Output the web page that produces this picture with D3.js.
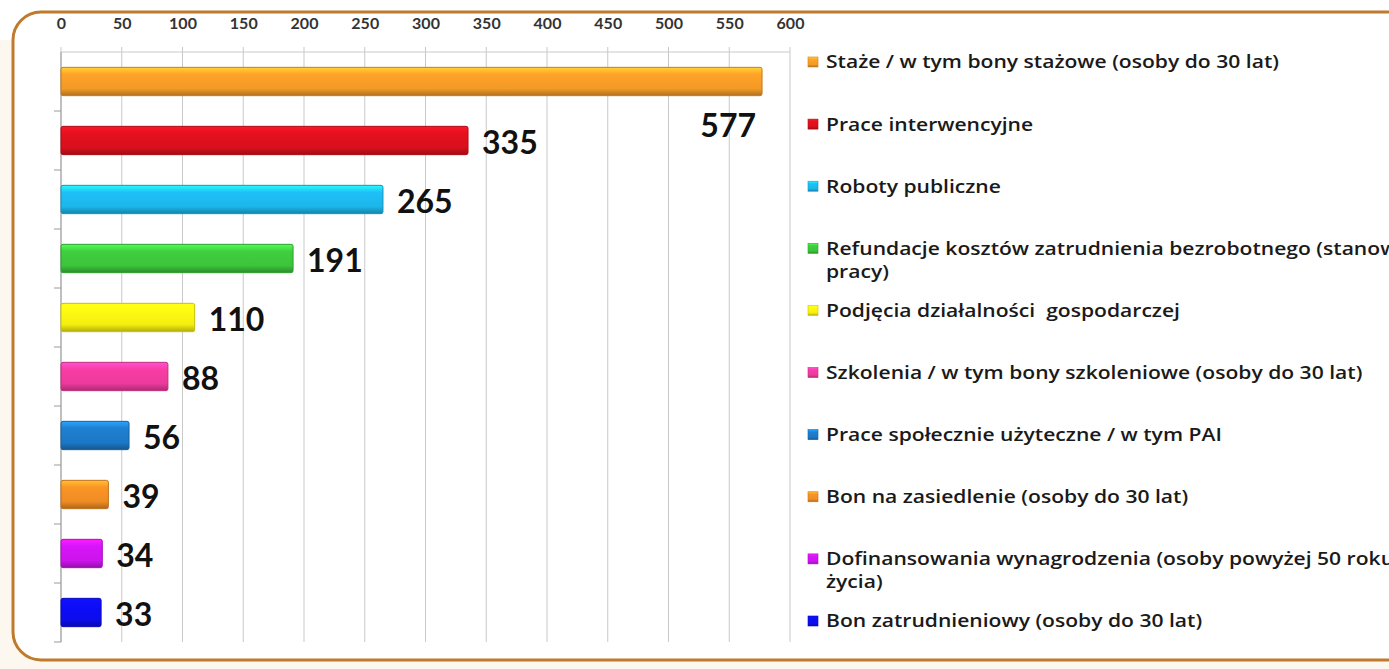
<!DOCTYPE html>
<html>
<head>
<meta charset="utf-8">
<script src="https://cdn.jsdelivr.net/npm/d3@7"></script>
<style>
  html, body { margin: 0; padding: 0; background: #ffffff; }
  svg { display: block; font-family: Lato, "Open Sans", sans-serif; }
  text { white-space: pre; }
</style>
</head>
<body>
<div id="chart"></div>
<script>
const categories = [
  "Staże / w tym bony stażowe (osoby do 30 lat)",
  "Prace interwencyjne",
  "Roboty publiczne",
  "Refundacje kosztów zatrudnienia bezrobotnego (stanowiska pracy)",
  "Podjęcia działalności  gospodarczej",
  "Szkolenia / w tym bony szkoleniowe (osoby do 30 lat)",
  "Prace społecznie użyteczne / w tym PAI",
  "Bon na zasiedlenie (osoby do 30 lat)",
  "Dofinansowania wynagrodzenia (osoby powyżej 50 roku życia)",
  "Bon zatrudnieniowy (osoby do 30 lat)"
];
const values = [577, 335, 265, 191, 110, 88, 56, 39, 34, 33];
const colors = ["#f39a26", "#d8101c", "#1cb6ea", "#3cc43c", "#f4ee10", "#ec3a9c", "#1c78c6", "#ee8c24", "#cc14ec", "#0c0cec"];
// legend labels broken the way the original wraps them
const legendLines = [
  ["Staże / w tym bony stażowe (osoby do 30 lat)"],
  ["Prace interwencyjne"],
  ["Roboty publiczne"],
  ["Refundacje kosztów zatrudnienia bezrobotnego (stanowiska", "pracy)"],
  ["Podjęcia działalności  gospodarczej"],
  ["Szkolenia / w tym bony szkoleniowe (osoby do 30 lat)"],
  ["Prace społecznie użyteczne / w tym PAI"],
  ["Bon na zasiedlenie (osoby do 30 lat)"],
  ["Dofinansowania wynagrodzenia (osoby powyżej 50 roku", "życia)"],
  ["Bon zatrudnieniowy (osoby do 30 lat)"]
];
const xTicks = [0, 50, 100, 150, 200, 250, 300, 350, 400, 450, 500, 550, 600];

const width = 1389, height = 669;
const margin = { top: 52, left: 61, bottom: 27, plotRight: 790 };

const svg = d3.select("#chart").append("svg")
  .attr("width", width).attr("height", height);

// background + frame
svg.append("rect").attr("x", 0).attr("y", 0).attr("width", width).attr("height", height).attr("fill", "#fdf8ef");
svg.append("rect").attr("x", 0).attr("y", 0).attr("width", width).attr("height", 40).attr("fill", "#ffffff");
svg.append("rect")
  .attr("x", 13).attr("y", 12)
  .attr("width", width + 40).attr("height", 648)
  .attr("rx", 28).attr("ry", 28)
  .attr("fill", "#ffffff")
  .attr("stroke", "#bf7a2c").attr("stroke-width", 3);

const x = d3.scaleLinear().domain([0, 600]).range([margin.left, margin.plotRight]);
const y = d3.scaleBand().domain(d3.range(categories.length))
  .range([margin.top, height - margin.bottom])
  .paddingInner(0.52).paddingOuter(0.26);
const step = y.step();

// gradients for the bevelled bars
const defs = svg.append("defs");
colors.forEach((c, i) => {
  const g = defs.append("linearGradient").attr("id", "grad" + i)
    .attr("x1", 0).attr("y1", 0).attr("x2", 0).attr("y2", 1);
  g.append("stop").attr("offset", "0%").attr("stop-color", d3.color(c).brighter(0.9));
  g.append("stop").attr("offset", "25%").attr("stop-color", d3.color(c).brighter(0.15));
  g.append("stop").attr("offset", "75%").attr("stop-color", c);
  g.append("stop").attr("offset", "100%").attr("stop-color", d3.color(c).darker(0.9));
});

// gridlines
svg.append("g")
  .selectAll("line").data(xTicks).join("line")
  .attr("x1", d => x(d)).attr("x2", d => x(d))
  .attr("y1", margin.top - 5).attr("y2", height - margin.bottom)
  .attr("stroke", "#c9c9c9").attr("stroke-width", 1);
svg.append("line")
  .attr("x1", margin.left).attr("x2", margin.plotRight)
  .attr("y1", margin.top).attr("y2", margin.top)
  .attr("stroke", "#c9c9c9");

// top axis labels
const xAxis = d3.axisTop(x).tickValues(xTicks).tickSize(0).tickPadding(0);
const ax = svg.append("g").attr("transform", "translate(0,29)").call(xAxis);
ax.select(".domain").remove();
ax.selectAll("text")
  .attr("font-size", 16).attr("font-weight", "bold").attr("fill", "#333")
  .attr("font-family", "Lato, sans-serif");

// left axis
const yTicks = d3.range(categories.length + 1).map(i => margin.top + i * step);
svg.append("line")
  .attr("x1", margin.left).attr("x2", margin.left)
  .attr("y1", margin.top).attr("y2", height - margin.bottom)
  .attr("stroke", "#9a9a9a");
svg.append("g").selectAll("line").data(yTicks.slice(1)).join("line")
  .attr("x1", margin.left - 7).attr("x2", margin.left)
  .attr("y1", d => d).attr("y2", d => d)
  .attr("stroke", "#9a9a9a");

// bars
svg.append("g").selectAll("rect").data(values).join("rect")
  .attr("x", x(0))
  .attr("y", (d, i) => y(i))
  .attr("width", d => x(d) - x(0))
  .attr("height", y.bandwidth())
  .attr("rx", 2)
  .attr("fill", (d, i) => `url(#grad${i})`)
  .attr("stroke", (d, i) => d3.color(colors[i]).darker(0.6))
  .attr("stroke-width", 1);

// value labels
svg.append("g").selectAll("text").data(values).join("text")
  .attr("x", (d, i) => i === 0 ? x(d) - 6 : x(d) + 14)
  .attr("y", (d, i) => i === 0 ? y(i) + y.bandwidth() + 30 : y(i) + y.bandwidth() / 2 + 2)
  .attr("dy", "0.35em")
  .attr("text-anchor", (d, i) => i === 0 ? "end" : "start")
  .attr("font-size", 32).attr("font-weight", "bold").attr("fill", "#111")
  .text(d => d);

// legend
const ly = d3.scaleLinear().domain([0, categories.length - 1]).range([62, 621]);
const legend = svg.append("g").selectAll("g").data(categories).join("g")
  .attr("transform", (d, i) => `translate(808,${ly(i)})`);
legend.append("rect")
  .attr("x", 0).attr("y", -5).attr("width", 10).attr("height", 10)
  .attr("fill", (d, i) => `url(#grad${i})`)
  .attr("stroke", (d, i) => d3.color(colors[i]).darker(0.5)).attr("stroke-width", 0.6);
// the source text is stretched sideways, so widen the glyphs a little
legend.append("g")
  .attr("transform", "translate(18,0) scale(1.14,1)")
  .append("text")
  .attr("x", 0).attr("y", 0)
  .attr("font-family", "'Open Sans', sans-serif")
  .attr("font-size", 18.5).attr("font-weight", 600).attr("fill", "#1a1a1a")
  .selectAll("tspan").data((d, i) => legendLines[i]).join("tspan")
  .attr("x", 0).attr("dy", (d, j) => j === 0 ? "0.35em" : 23)
  .text(d => d);
</script>
</body>
</html>
